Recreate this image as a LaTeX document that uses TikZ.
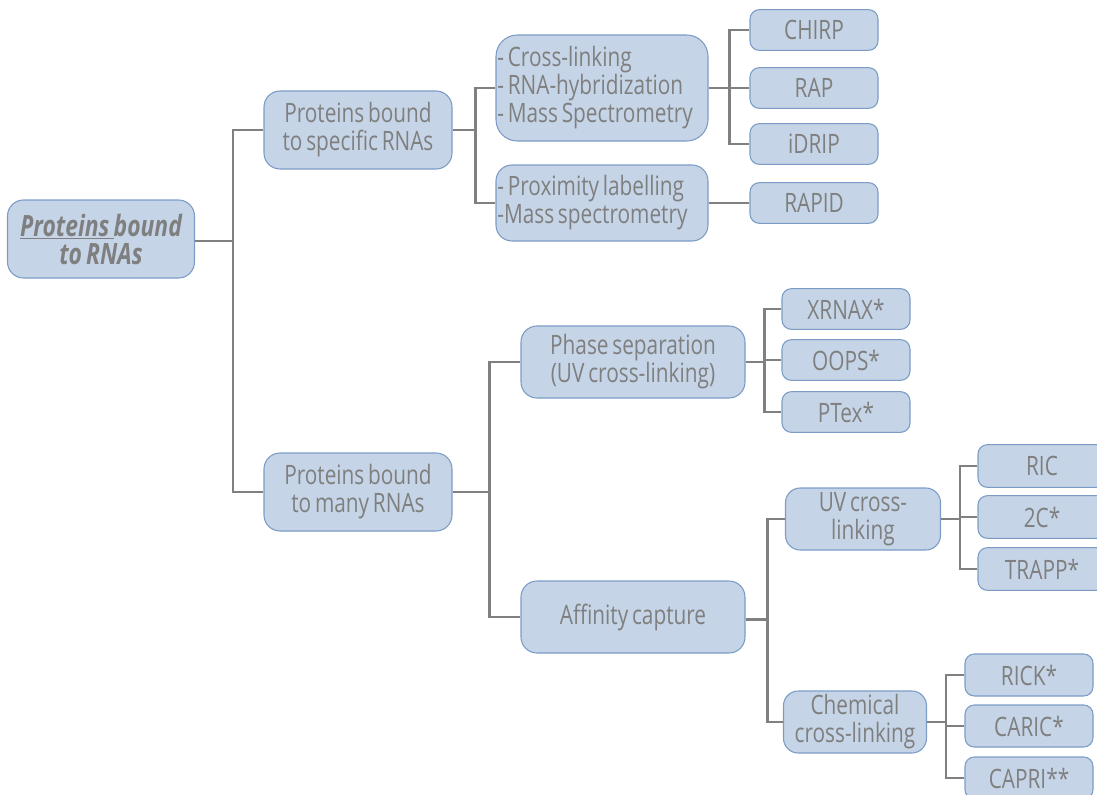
\documentclass[tikz,border=0pt]{standalone}
\usepackage{fontspec}
\setmainfont{Open Sans}[FakeStretch=0.78, WordSpace=0.7]
\definecolor{boxfill}{HTML}{C5D4E6}
\definecolor{boxline}{HTML}{7B9CC6}
\definecolor{txt}{HTML}{7F7F7F}
\definecolor{conncol}{HTML}{808080}
\begin{document}
\begin{tikzpicture}[x=0.75pt,y=-0.75pt,
  box/.style={draw=boxline, fill=boxfill, line width=0.8pt, rounded corners=10pt,
    text=txt, font=\fontsize{20}{21}\selectfont, align=center, inner sep=1pt},
  small/.style={box, rounded corners=7pt, minimum width=96pt, minimum height=30.5pt},
  conn/.style={draw=conncol, line width=2pt}]
\useasboundingbox (0,0) rectangle (1097,794);

\node[box, minimum width=140.25pt, minimum height=58.5pt, rounded corners=12pt,
  font=\fontsize{22}{21}\selectfont\bfseries\itshape] (root) at (101,239)
  {\underline{Proteins }bound\\to RNAs};
\node[box, minimum width=141pt, minimum height=58.5pt, rounded corners=12pt] (spec) at (358,130) {Proteins bound\\to specific RNAs};
\node[box, minimum width=141pt, minimum height=58.5pt, rounded corners=12pt] (many) at (358,492) {Proteins bound\\to many RNAs};

\node[box, minimum width=159pt, minimum height=79.5pt, text width=157pt, align=left, rounded corners=16pt] (cross) at (602,88)
  {\spaceskip=0pt\xspaceskip=0pt - Cross-linking\\- RNA-hybridization\\- Mass Spectrometry};
\node[box, minimum width=159pt, minimum height=57pt, text width=157pt, align=left, rounded corners=12pt] (prox) at (602,203)
  {\spaceskip=0pt\xspaceskip=0pt - Proximity labelling\\-Mass spectrometry};

\node[small] (chirp) at (814,30) {CHIRP};
\node[small] (rap) at (814,88) {RAP};
\node[small] (idrip) at (814,144) {iDRIP};
\node[small] (rapid) at (814,203) {RAPID};

\node[box, minimum width=168pt, minimum height=54pt, rounded corners=12pt] (phase) at (633,362) {Phase separation\\(UV cross-linking)};
\node[box, minimum width=168pt, minimum height=54pt, rounded corners=12pt] (affin) at (633,617) {Affinity capture};

\node[small] (xrnax) at (846,309) {XRNAX*};
\node[small] (oops) at (846,360) {OOPS*};
\node[small] (ptex) at (846,412) {PTex*};

\node[box, minimum width=116.25pt, minimum height=46.5pt, rounded corners=11pt] (uv) at (863,519) {UV cross-\\linking};
\node[box, minimum width=107.25pt, minimum height=46.5pt, rounded corners=11pt] (chem) at (855,722) {Chemical\\cross-linking};

\node[small, minimum height=32pt] (ric) at (1042,466) {RIC};
\node[small, minimum height=32pt] (twoc) at (1042,517) {2C*};
\node[small, minimum height=32pt] (trapp) at (1042,569) {TRAPP*};

\node[small, minimum height=31.5pt] (rick) at (1029,675) {RICK*};
\node[small, minimum height=31.5pt] (caric) at (1029,726) {CARIC*};
\node[small, minimum height=31.5pt] (capri) at (1029,778) {CAPRI**};

% connectors
\draw[conn] ([yshift=-1.5pt]root.east) -- ++(38,0) coordinate (j0);
\draw[conn] (spec.west) -| (j0);
\draw[conn] (many.west) -| (j0);

\draw[conn] (spec.east) -- ++(23,0) coordinate (j1);
\draw[conn] (cross.west) -| (j1);
\draw[conn] (prox.west) -| (j1);

\draw[conn] (cross.east) -- ++(21,0) coordinate (j2);
\draw[conn] (chirp.west) -| (j2);
\draw[conn] (rap.west) -| (j2);
\draw[conn] (idrip.west) -| (j2);

\draw[conn] (prox.east) -- (rapid.west);

\draw[conn] (many.east) -- ++(37,0) coordinate (j3);
\draw[conn] (phase.west) -| (j3);
\draw[conn] (affin.west) -| (j3);

\draw[conn] (phase.east) -- ++(19,0) coordinate (j4);
\draw[conn] (xrnax.west) -| (j4);
\draw[conn] (oops.west) -| (j4);
\draw[conn] (ptex.west) -| (j4);

\draw[conn] ([yshift=-2pt]affin.east) -- ++(22,0) coordinate (j5);
\draw[conn] (uv.west) -| (j5);
\draw[conn] (chem.west) -| (j5);

\draw[conn] (uv.east) -- ++(19,0) coordinate (j6);
\draw[conn] (ric.west) -| (j6);
\draw[conn] (twoc.west) -| (j6);
\draw[conn] (trapp.west) -| (j6);

\draw[conn] (chem.east) -- ++(19,0) coordinate (j7);
\draw[conn] (rick.west) -| (j7);
\draw[conn] (caric.west) -| (j7);
\draw[conn] (capri.west) -| (j7);
\end{tikzpicture}
\end{document}
